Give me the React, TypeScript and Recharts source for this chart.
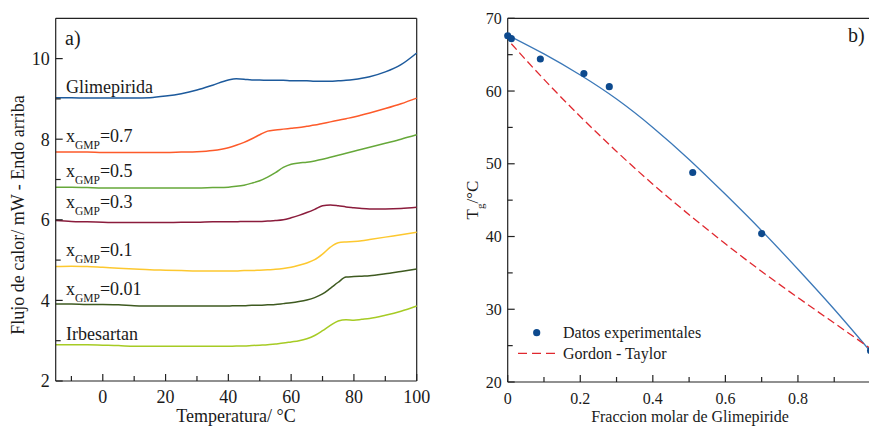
import React from "react";
import {
  ComposedChart,
  Legend,
  Line,
  LineChart,
  ReferenceLine,
  Scatter,
  XAxis,
  YAxis,
  ZAxis,
} from "recharts";

// panel a) DSC curves, heat flow (mW) vs temperature (°C)
const temps = [
  -15, -10, -5, 0, 5, 10, 15, 20, 25, 30, 35, 40, 42.5, 45, 47.5, 50, 52.5, 55,
  57.5, 60, 62.5, 65, 67.5, 70, 72.5, 75, 77.5, 80, 82.5, 85, 90, 95, 100,
];
const glimepirida = [
  9.03, 9.03, 9.02, 9.02, 9.02, 9.02, 9.03, 9.07, 9.13, 9.22, 9.34, 9.47, 9.5,
  9.49, 9.47, 9.47, 9.46, 9.46, 9.46, 9.45, 9.45, 9.45, 9.44, 9.44, 9.44, 9.45,
  9.46, 9.48, 9.51, 9.55, 9.67, 9.85, 10.14,
];
const x07 = [
  7.68, 7.68, 7.68, 7.67, 7.67, 7.67, 7.67, 7.67, 7.68, 7.69, 7.72, 7.79, 7.85,
  7.92, 8.01, 8.11, 8.2, 8.23, 8.25, 8.27, 8.29, 8.32, 8.35, 8.39, 8.43, 8.47,
  8.51, 8.55, 8.6, 8.65, 8.76, 8.88, 9.02,
];
const x05 = [
  6.81, 6.81, 6.8, 6.79, 6.79, 6.79, 6.79, 6.79, 6.79, 6.79, 6.8, 6.81, 6.83,
  6.86, 6.91, 6.97, 7.06, 7.17, 7.3, 7.38, 7.41, 7.43, 7.46, 7.5, 7.55, 7.6,
  7.65, 7.7, 7.75, 7.8, 7.9, 8.0, 8.11,
];
const x03 = [
  5.98, 5.96, 5.95, 5.94, 5.93, 5.93, 5.93, 5.93, 5.94, 5.94, 5.95, 5.95, 5.95,
  5.96, 5.96, 5.96, 5.97, 5.98, 6.0, 6.05, 6.11, 6.18, 6.26, 6.35, 6.37, 6.35,
  6.32, 6.3, 6.28, 6.27, 6.27, 6.28, 6.31,
];
const x01 = [
  4.84, 4.85, 4.84, 4.82, 4.8, 4.78, 4.76, 4.75, 4.74, 4.73, 4.73, 4.73, 4.73,
  4.74, 4.74, 4.75, 4.76, 4.77, 4.79, 4.82, 4.87, 4.93, 5.01, 5.15, 5.32, 5.43,
  5.45, 5.46, 5.48, 5.51, 5.57, 5.63, 5.69,
];
const x001 = [
  3.91, 3.91, 3.9, 3.9, 3.89, 3.87, 3.86, 3.86, 3.86, 3.86, 3.86, 3.86, 3.87,
  3.87, 3.88, 3.88, 3.89, 3.9, 3.92, 3.94, 3.97, 4.01, 4.07, 4.16, 4.3, 4.45,
  4.58, 4.59, 4.6, 4.61, 4.66, 4.72, 4.78,
];
const irbesartan = [
  2.9, 2.9, 2.9, 2.89, 2.88, 2.86, 2.86, 2.86, 2.86, 2.86, 2.86, 2.86, 2.87,
  2.87, 2.88, 2.89, 2.9, 2.92, 2.94, 2.97, 3.0, 3.05, 3.13, 3.25, 3.38, 3.49,
  3.52, 3.51, 3.53, 3.55, 3.63, 3.73, 3.86,
];
const tempTicks = [-10, 0, 10, 20, 30, 40, 50, 60, 70, 80, 90, 100];
const flowTicks = [2, 3, 4, 5, 6, 7, 8, 9, 10];

// panel b) Tg vs molar fraction of glimepiride
const fitX = [0, 0.1, 0.2, 0.3, 0.4, 0.5, 0.6, 0.7, 0.8, 0.9, 1.0];
const fitY = [67.7, 65.1, 62.2, 58.9, 55.0, 50.6, 45.8, 40.8, 35.5, 30.0, 24.2];
const gtX = [0.01, 0.1, 0.2, 0.3, 0.4, 0.5, 0.6, 0.7, 0.8, 0.9, 1.0];
const gtY = [66.5, 61.6, 56.5, 51.7, 47.2, 43.0, 39.0, 35.2, 31.6, 28.1, 24.6];
const expX = [0, 0.01, 0.09, 0.21, 0.28, 0.51, 0.7, 1.0];
const expY = [67.6, 67.2, 64.4, 62.4, 60.6, 48.8, 40.4, 24.3];
const fracTicks = [0, 0.1, 0.2, 0.3, 0.4, 0.5, 0.6, 0.7, 0.8, 0.9];
const fracLabels = ["0", "", "0.2", "", "0.4", "", "0.6", "", "0.8", ""];
const tgTicks = [20, 25, 30, 35, 40, 45, 50, 55, 60, 65, 70];

const dscRows = temps.map((t, i) => ({
  t,
  glim: glimepirida[i],
  x07: x07[i],
  x05: x05[i],
  x03: x03[i],
  x01: x01[i],
  x001: x001[i],
  irb: irbesartan[i],
}));
const fitRows = fitX.map((x, i) => ({ x, y: fitY[i] }));
const gtRows = gtX.map((x, i) => ({ x, y: gtY[i] }));
const expRows = expX.map((x, i) => ({ x, y: expY[i] }));

const SERIF = '"Liberation Serif", "Times New Roman", serif';
const AX = "#222";
const TXT = "#1a1a1a";

const curves = [
  { key: "glim", color: "#1d5a9c" },
  { key: "x07", color: "#fd5a2a" },
  { key: "x05", color: "#66a83a" },
  { key: "x03", color: "#8b1c3c" },
  { key: "x01", color: "#fdc82f" },
  { key: "x001", color: "#3e5a20" },
  { key: "irb", color: "#a6cb24" },
];

function makeXTick(isMajor: (v: number) => boolean, label: (v: number) => string, size: number) {
  return (props: any) => {
    const { x, y, payload } = props;
    const major = isMajor(payload.value);
    return (
      <g>
        <line x1={x} y1={y} x2={x} y2={y - (major ? 7 : 5)} stroke={AX} strokeWidth={1.2} />
        {major && (
          <text x={x} y={y + 22} textAnchor="middle" fontFamily={SERIF} fontSize={size} fill={TXT}>
            {label(payload.value)}
          </text>
        )}
      </g>
    );
  };
}

function makeYTick(isMajor: (v: number) => boolean, size: number) {
  return (props: any) => {
    const { x, y, payload } = props;
    const major = isMajor(payload.value);
    return (
      <g>
        <line x1={x} y1={y} x2={x + (major ? 7 : 5)} y2={y} stroke={AX} strokeWidth={1.2} />
        {major && (
          <text x={x - 6} y={y} dy="0.35em" textAnchor="end" fontFamily={SERIF} fontSize={size} fill={TXT}>
            {payload.value}
          </text>
        )}
      </g>
    );
  };
}

const leftXTick = makeXTick((v) => v % 20 === 0, (v) => String(v), 18);
const leftYTick = makeYTick((v) => v % 2 === 0, 18);
const rightXTick = makeXTick(
  (v) => fracLabels[fracTicks.indexOf(v)] !== "",
  (v) => fracLabels[fracTicks.indexOf(v)],
  16
);
const rightYTick = makeYTick((v) => v % 10 === 0, 16);

function TgLegend() {
  return (
    <svg width={200} height={46} style={{ display: "block" }}>
      <circle cx={20.7} cy={14.7} r={3.6} fill="#0d4a8e" />
      <text x={47} y={20} fontFamily={SERIF} fontSize={16} fill={TXT}>
        Datos experimentales
      </text>
      <line x1={2} y1={35.3} x2={39} y2={35.3} stroke="#e0282f" strokeWidth={1.3} strokeDasharray="9 5" />
      <text x={47} y={41} fontFamily={SERIF} fontSize={16} fill={TXT}>
        Gordon - Taylor
      </text>
    </svg>
  );
}

function Sub({ x, y, v }: { x: number; y: number; v: string }) {
  return (
    <text x={x} y={y} fontFamily={SERIF} fontSize={18} fill={TXT}>
      x
      <tspan fontSize={11.5} dy={7}>
        GMP
      </tspan>
      <tspan dy={-7}>={v}</tspan>
    </text>
  );
}

export default function App() {
  return (
    <div
      style={{
        position: "fixed",
        left: 0,
        top: 0,
        width: 869,
        height: 427,
        overflow: "hidden",
        background: "#fff",
      }}
    >
      <div style={{ position: "absolute", left: 0, top: 0 }}>
        <LineChart
          width={440}
          height={427}
          data={dscRows}
          margin={{ top: 18.3, right: 23.3, bottom: 16, left: 25.7 }}
        >
          <XAxis
            dataKey="t"
            type="number"
            domain={[-15, 100]}
            ticks={tempTicks}
            interval={0}
            height={30}
            tickSize={0}
            tickMargin={0}
            tickLine={false}
            tick={leftXTick}
            axisLine={{ stroke: AX, strokeWidth: 1.2 }}
          />
          <YAxis
            type="number"
            domain={[2, 11]}
            ticks={flowTicks}
            interval={0}
            width={30}
            tickSize={0}
            tickMargin={0}
            tickLine={false}
            tick={leftYTick}
            axisLine={{ stroke: AX, strokeWidth: 1.2 }}
          />
          <ReferenceLine y={11} stroke={AX} strokeWidth={1.2} />
          <ReferenceLine x={100} stroke={AX} strokeWidth={1.2} />
          {curves.map((c) => (
            <Line
              key={c.key}
              dataKey={c.key}
              type="monotone"
              stroke={c.color}
              strokeWidth={1.5}
              dot={false}
              isAnimationActive={false}
            />
          ))}
        </LineChart>
      </div>

      <div style={{ position: "absolute", left: 440, top: 0 }}>
        <ComposedChart
          width={440}
          height={427}
          margin={{ top: 18.3, right: 9.5, bottom: 15, left: 27.7 }}
        >
          <XAxis
            dataKey="x"
            type="number"
            domain={[0, 1]}
            ticks={fracTicks}
            interval={0}
            height={30}
            tickSize={0}
            tickMargin={0}
            tickLine={false}
            tick={rightXTick}
            axisLine={{ stroke: AX, strokeWidth: 1.2 }}
          />
          <YAxis
            dataKey="y"
            type="number"
            domain={[20, 70]}
            ticks={tgTicks}
            interval={0}
            width={40}
            tickSize={0}
            tickMargin={0}
            tickLine={false}
            tick={rightYTick}
            axisLine={{ stroke: AX, strokeWidth: 1.2 }}
          />
          <ZAxis range={[40, 40]} />
          <ReferenceLine y={70} stroke={AX} strokeWidth={1.2} />
          <ReferenceLine x={1} stroke={AX} strokeWidth={1.2} />
          <Line
            data={fitRows}
            dataKey="y"
            type="natural"
            stroke="#3b78b8"
            strokeWidth={1.3}
            dot={false}
            isAnimationActive={false}
          />
          <Line
            data={gtRows}
            dataKey="y"
            type="natural"
            stroke="#e0282f"
            strokeWidth={1.3}
            strokeDasharray="8 4"
            dot={false}
            isAnimationActive={false}
          />
          <Scatter data={expRows} fill="#0d4a8e" shape="circle" isAnimationActive={false} />
          <Legend
            layout="vertical"
            verticalAlign="middle"
            align="center"
            wrapperStyle={{ left: 76, top: 318, width: 200, height: 46 }}
            content={() => <TgLegend />}
          />
        </ComposedChart>
      </div>

      <svg
        width={869}
        height={427}
        style={{ position: "absolute", left: 0, top: 0, pointerEvents: "none" }}
      >
        <text x={65} y={45} fontFamily={SERIF} fontSize={20} fill={TXT}>
          a)
        </text>
        <text x={848} y={42} fontFamily={SERIF} fontSize={20} fill={TXT}>
          b)
        </text>
        <text x={66} y={92.5} fontFamily={SERIF} fontSize={18} fill={TXT}>
          Glimepirida
        </text>
        <Sub x={66} y={142} v="0.7" />
        <Sub x={66} y={177} v="0.5" />
        <Sub x={66} y={208} v="0.3" />
        <Sub x={66} y={256} v="0.1" />
        <Sub x={66} y={295} v="0.01" />
        <text x={66} y={340} fontFamily={SERIF} fontSize={18} fill={TXT}>
          Irbesartan
        </text>
        <text
          x={236}
          y={422}
          textAnchor="middle"
          fontFamily={SERIF}
          fontSize={18}
          fill={TXT}
        >
          Temperatura/ °C
        </text>
        <text
          transform="translate(24,215) rotate(-90)"
          textAnchor="middle"
          fontFamily={SERIF}
          fontSize={18}
          fill={TXT}
        >
          Flujo de calor/ mW - Endo arriba
        </text>
        <text
          x={690}
          y={422}
          textAnchor="middle"
          fontFamily={SERIF}
          fontSize={16}
          fill={TXT}
        >
          Fraccion molar de Glimepiride
        </text>
        <text
          transform="translate(478,200) rotate(-90)"
          textAnchor="middle"
          fontFamily={SERIF}
          fontSize={17}
          fill={TXT}
        >
          T
          <tspan fontSize={11} dy={6}>
            g
          </tspan>
          <tspan dy={-6}>/°C</tspan>
        </text>
      </svg>
    </div>
  );
}
